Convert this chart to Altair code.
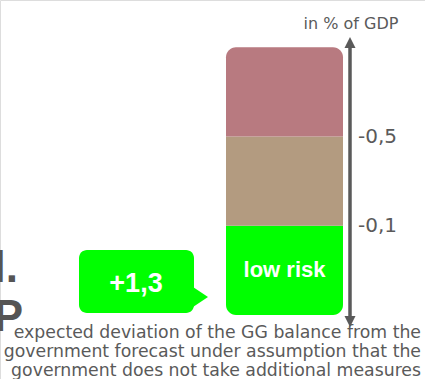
import altair as alt
import pandas as pd

# ---- data ----
band_names = ["low risk", "medium risk", "high risk"]
band_start = [0, 1, 2]
band_end = [1, 2, 3]
band_colors = ["#00ff00", "#b39b80", "#b87a80"]
band_text = ["low risk", "", ""]
tick_levels = [1, 2]
tick_labels = ["-0,1", "-0,5"]
deviation_label = ["+1,3"]
unit_label = ["in % of GDP"]
note_lines = [
    "expected deviation of the GG balance from the",
    "government forecast under assumption that the",
    "government does not take additional measures",
]
title_fragments = ["l.", "P"]

bands = pd.DataFrame({"name": band_names, "start": band_start, "end": band_end,
                      "text": band_text, "mid": [(a + b) / 2 for a, b in zip(band_start, band_end)]})
ticks = pd.DataFrame({"level": tick_levels, "label": tick_labels})
one = pd.DataFrame({"k": [0]})

yscale = alt.Scale(domain=[-0.717, 3.53], zero=False, nice=False)
color = alt.Color("name:N", scale=alt.Scale(domain=band_names, range=band_colors), legend=None)
GRAY = "#5a5a5a"
BX0, BX1 = 226, 343


def band_layer(i, **corner):
    return (alt.Chart(bands)
            .transform_filter(alt.datum.name == band_names[i])
            .mark_rect(**corner)
            .encode(x=alt.value(BX0), x2=alt.value(BX1),
                    y=alt.Y("start:Q", scale=yscale, axis=None), y2="end:Q",
                    color=color))


low = band_layer(0, cornerRadiusBottomLeft=10, cornerRadiusBottomRight=10)
mid = band_layer(1)
high = band_layer(2, cornerRadiusTopLeft=10, cornerRadiusTopRight=10)

band_label = (alt.Chart(bands).transform_filter(alt.datum.text != "")
              .mark_text(font="Liberation Sans", fontWeight="bold", fontSize=22, color="white",
                         align="center", baseline="middle")
              .encode(x=alt.value((BX0 + BX1) / 2), y=alt.Y("mid:Q", scale=yscale, axis=None),
                      text="text:N"))

# vertical double arrow
axis_line = alt.Chart(one).mark_rule(color=GRAY, strokeWidth=3.5).encode(
    x=alt.value(350), y=alt.value(44), y2=alt.value(321))
arrow_up = alt.Chart(one).mark_point(shape="M0,-1L1,1L-1,1Z", filled=True, color=GRAY,
                                     size=121, opacity=1, strokeWidth=0).encode(
    x=alt.value(350), y=alt.value(42.5))
arrow_down = alt.Chart(one).mark_point(shape="M0,1L1,-1L-1,-1Z", filled=True, color=GRAY,
                                       size=121, opacity=1, strokeWidth=0).encode(
    x=alt.value(350), y=alt.value(321.5))

tick_text = alt.Chart(ticks).mark_text(font="DejaVu Sans", fontSize=20, color=GRAY,
                                       align="left", baseline="middle").encode(
    x=alt.value(358), y=alt.Y("level:Q", scale=yscale, axis=None), text="label:N")

unit_text = alt.Chart(pd.DataFrame({"t": unit_label})).mark_text(
    font="DejaVu Sans", fontSize=16, color=GRAY, align="center", baseline="alphabetic").encode(
    x=alt.value(351), y=alt.value(29), text="t:N")

# callout bubble
bubble = alt.Chart(one).mark_rect(color="#00ff00", cornerRadius=8).encode(
    x=alt.value(79), x2=alt.value(194), y=alt.value(250), y2=alt.value(313))
pointer = alt.Chart(one).mark_point(shape="M-1,-1.33L1,0L-1,1.33Z", filled=True, color="#00ff00",
                                    size=225, opacity=1, strokeWidth=0).encode(
    x=alt.value(200.5), y=alt.value(297))
bubble_text = alt.Chart(pd.DataFrame({"t": deviation_label})).mark_text(
    font="Liberation Sans", fontWeight="bold", fontSize=27, color="white",
    align="center", baseline="alphabetic").encode(
    x=alt.value(136), y=alt.value(292), text="t:N")

# cut-off title fragments on the left
frag1 = alt.Chart(pd.DataFrame({"t": [title_fragments[0]]})).mark_text(
    font="Liberation Sans", fontWeight="bold", fontSize=44, color="#555555",
    align="right", baseline="alphabetic").encode(x=alt.value(18), y=alt.value(282), text="t:N")
frag2 = alt.Chart(pd.DataFrame({"t": [title_fragments[1]]})).mark_text(
    font="Liberation Sans", fontWeight="bold", fontSize=44, color="#555555",
    align="right", baseline="alphabetic").encode(x=alt.value(23), y=alt.value(331), text="t:N")

notes = pd.DataFrame({"t": note_lines, "i": list(range(len(note_lines)))})
note_text = alt.Chart(notes).transform_calculate(py="338 + datum.i * 19").mark_text(
    font="DejaVu Sans", fontSize=17.3, color=GRAY, align="right", baseline="alphabetic").encode(
    x=alt.value(421), y=alt.Y("py:Q", scale=alt.Scale(domain=[0, 379], range=[0, 379]), axis=None),
    text="t:N")

chart = alt.layer(
    low, mid, high, band_label, axis_line, arrow_up, arrow_down, tick_text, unit_text,
    bubble, pointer, bubble_text, frag1, frag2, note_text
).resolve_scale(y="independent").properties(
    width=425, height=379, autosize=alt.AutoSizeParams(type="none"), padding=0
).configure_view(stroke=None).configure(background="white")

chart.save("out.html", embed_options={"renderer": "svg", "actions": False})
